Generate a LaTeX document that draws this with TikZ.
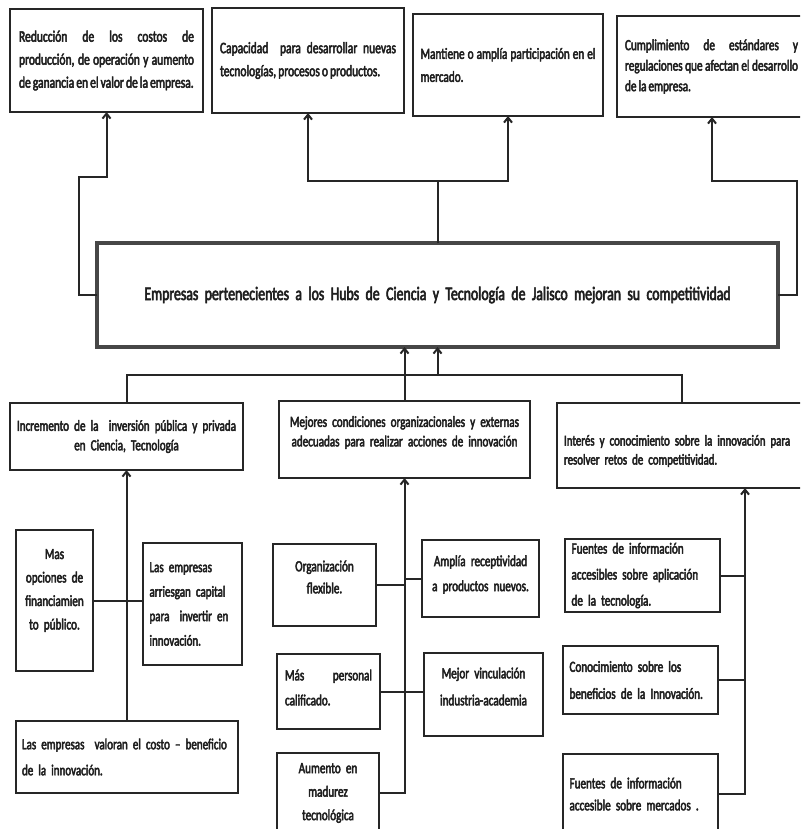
\documentclass[tikz,border=0pt]{standalone}
\usepackage{fontspec}
\setmainfont{Carlito}[FakeStretch=0.72,FakeBold=3,WordSpace=0.8]
\usetikzlibrary{arrows.meta}
\begin{document}
\hyphenpenalty=10000
\exhyphenpenalty=10000
\begin{tikzpicture}[x=1pt,y=-1pt,
  every node/.style={text=black!88},
  bx/.style={draw=black!85, line width=1.5pt, anchor=north west, inner sep=0pt, outer sep=0pt},
  fs/.style 2 args={font=\fontsize{#1}{#2}\selectfont},
  tup/.style={execute at end node={\endgraf\vspace*{#1}}},
  conn/.style={line width=2pt, draw=black!85},
  arr/.style={conn, -{Straight Barb[length=5pt,width=8pt]}},
]
\fill[white] (0,0) rectangle (800,829);
\useasboundingbox (0,0) rectangle (800,829);
\clip (0,0) rectangle (800,829);

% top row
\node[bx, minimum width=193pt, minimum height=103pt, text width=175pt, align=justify, fs={16}{23}] (A) at (10,9)
  {Reducción de los costos de\linebreak producción, de operación y aumento\linebreak de ganancia en el valor de la empresa.};
\node[bx, minimum width=192pt, minimum height=105pt, text width=176pt, align=justify, fs={16}{23}] (B) at (212,8)
  {Capacidad\ \ para desarrollar nuevas\linebreak tecnologías, procesos o productos.};
\node[bx, minimum width=190pt, minimum height=102pt, text width=175pt, align=justify, fs={15.6}{23}] (C) at (413,14)
  {Mantiene o amplía participación en el\linebreak mercado.};
\node[bx, minimum width=189pt, minimum height=101pt, text width=173pt, align=justify, fs={15.6}{20.5}] (D) at (617,16)
  {Cumplimiento de estándares y\linebreak regulaciones que afectan el desarrollo\linebreak de la empresa.};

% main
\node[bx, draw=black!72, line width=3.2pt, minimum width=681pt, minimum height=104pt, text width=670pt, align=center, fs={19.2}{23}] (main) at (97,243)
  {Empresas pertenecientes a los Hubs de Ciencia y Tecnología de Jalisco mejoran su competitividad};

% second row
\node[bx, minimum width=233pt, minimum height=67pt, text width=225pt, align=center, fs={15.4}{19.5}] (Inc) at (10,403)
  {Incremento de la\ \ inversión pública y privada\\ en Ciencia, Tecnología};
\node[bx, minimum width=251pt, minimum height=77pt, text width=240pt, align=center, fs={15.4}{19.5}, tup=14pt] (Mej) at (279,401)
  {Mejores condiciones organizacionales y externas\\ adecuadas para realizar acciones de innovación};
\node[bx, minimum width=250pt, minimum height=85pt, text width=236pt, align=left, fs={15.1}{19}, tup=-11pt] (Int) at (557,403)
  {Interés y conocimiento sobre la innovación para\\ resolver retos de competitividad.};

% left column
\node[bx, minimum width=77pt, minimum height=141pt, text width=72pt, align=center, fs={15.5}{23.5}, tup=20pt] (Mas) at (16,530)
  {Mas\\ opciones de\\ financiamien\\ to público.};
\node[bx, minimum width=99pt, minimum height=122pt, text width=86pt, align=left, fs={15.3}{24.5}] (Arr) at (143,543)
  {Las empresas\\ arriesgan capital\\ para\ \ invertir en\\ innovación.};
\node[bx, minimum width=222pt, minimum height=72pt, text width=210pt, align=left, fs={15.3}{26}] (Val) at (16,721)
  {Las empresas\ \ valoran el costo – beneficio\\ de la innovación.};

% middle column
\node[bx, minimum width=103pt, minimum height=82pt, text width=95pt, align=center, fs={15.5}{22}, tup=16pt] (Org) at (273,544)
  {Organización\\ flexible.};
\node[bx, minimum width=117pt, minimum height=77pt, text width=112pt, align=center, fs={15.5}{25}, tup=8pt] (Amp) at (422,540)
  {Amplía receptividad\\ a productos nuevos.};
\node[bx, minimum width=103pt, minimum height=75pt, text width=87pt, align=justify, fs={15.5}{25}, tup=8pt] (Mas2) at (277,654)
  {Más personal\linebreak calificado.};
\node[bx, minimum width=119pt, minimum height=83pt, text width=112pt, align=center, fs={15.5}{27}, tup=16pt] (Vin) at (424,653)
  {Mejor vinculación\\ industria-academia};
\node[bx, minimum width=102pt, minimum height=80pt, text width=95pt, align=center, fs={15.5}{23.5}] (Aum) at (277,753)
  {Aumento en\\ madurez\\ tecnológica};

% right column
\node[bx, minimum width=155pt, minimum height=73pt, text width=142pt, align=left, fs={15.5}{26}] (F1) at (565,539)
  {Fuentes de información\\ accesibles sobre aplicación\\ de la tecnología.};
\node[bx, minimum width=155pt, minimum height=68pt, text width=142pt, align=left, fs={15.5}{27}] (Con) at (563,646)
  {Conocimiento sobre los\\ beneficios de la Innovación.};
\node[bx, minimum width=155pt, minimum height=80pt, text width=142pt, align=left, fs={15.5}{22}] (F2) at (563,754)
  {Fuentes de información\\ accesible sobre mercados .};

% helper coordinates
\coordinate (bT) at (0,181);
\coordinate (bus) at (0,375);
\coordinate (dD) at (712,0);
\coordinate (rv) at (745,0);

% connectors to top row
\draw[arr] (main.west) -- ++(-18,0) |- ([yshift=-65pt]A.south) -- (A.south);
\draw[arr] (main.north) -- (main.north |- bT) -| (B.south);
\draw[arr] (main.north |- bT) -| (C.south);
\draw[arr] (main.east) -- ++(19,0) |- (dD |- bT) -- (dD |- D.south);

% bus to main
\draw[conn] (Inc.north) |- (Int.north |- bus) -- (Int.north);
\draw[arr] (Mej.north) -- (Mej.north |- main.south);
\draw[arr] (main.south |- bus) -- (main.south);

% left column
\draw[arr] (Inc.south |- Val.north) -- (Inc.south);
\draw[conn] (Mas.east) -- (Mas.east -| Arr.west);

% middle column
\draw[arr] (Aum.east) -| (Mej.south);
\draw[conn] (Org.east) -- (Org.east -| Mej.south);
\draw[conn] (Amp.west) -- (Amp.west -| Mej.south);
\draw[conn] (Mas2.east) -- (Mas2.east -| Vin.west);

% right column
\draw[arr] (F2.east) -| (Int.south -| rv);
\draw[conn] (F1.east) -- (F1.east -| rv);
\draw[conn] (Con.east) -- (Con.east -| rv);
\end{tikzpicture}
\end{document}
